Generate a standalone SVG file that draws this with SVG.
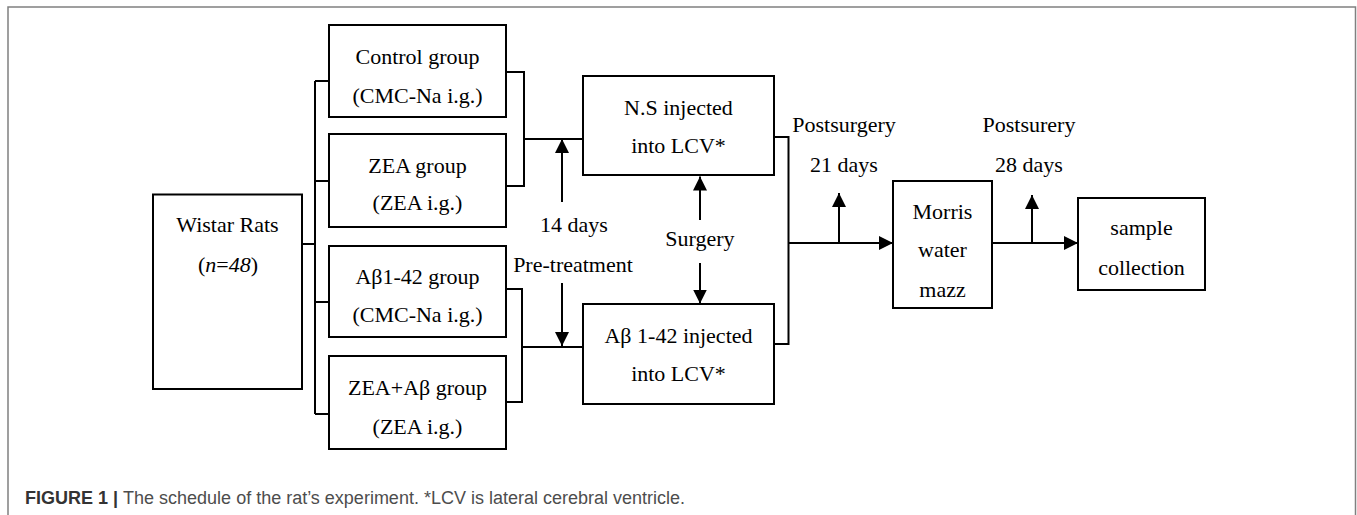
<svg xmlns="http://www.w3.org/2000/svg" width="1357" height="515" viewBox="0 0 1357 515">
<style>
.box{fill:#fff;stroke:#000;stroke-width:2}
.ln{fill:none;stroke:#000;stroke-width:2}
.t{font-family:"Liberation Serif","Times New Roman",serif;font-size:22px;fill:#000;text-anchor:middle}
.cap{font-family:"Liberation Sans",Arial,sans-serif;font-size:18px}
</style>
<defs>
<marker id="ah" markerUnits="userSpaceOnUse" markerWidth="14" markerHeight="14" refX="14" refY="7" orient="auto">
<path d="M0,0 L14,7 L0,14 z" fill="#000"/>
</marker>
</defs>
<rect width="1357" height="515" fill="#fff"/>
<path d="M8,515 V7 H1355.5 V515" fill="none" stroke="#808080" stroke-width="1.5"/>
<g id="connectors">
<path class="ln" d="M302,244 H315"/>
<path class="ln" d="M315,81 V414"/>
<path class="ln" d="M315,81 H329 M315,181 H329 M315,302 H329 M315,414 H329"/>
<path class="ln" d="M506,72 H524 V186 H506 M524,139 H583"/>
<path class="ln" d="M506,289 H522 V402 H506 M522,347 H583"/>
<path class="ln" d="M562,202 V139" marker-end="url(#ah)"/>
<path class="ln" d="M562,283 V346" marker-end="url(#ah)"/>
<path class="ln" d="M700,220 V176.5" marker-end="url(#ah)"/>
<path class="ln" d="M700,263 V303.5" marker-end="url(#ah)"/>
<path class="ln" d="M774,137 H788.5 V344 H774"/>
<path class="ln" d="M788.5,243 H893" marker-end="url(#ah)"/>
<path class="ln" d="M839,243 V193" marker-end="url(#ah)"/>
<path class="ln" d="M992,243 H1078" marker-end="url(#ah)"/>
<path class="ln" d="M1032,243 V195" marker-end="url(#ah)"/>
</g>
<g id="wistar">
<rect class="box" x="153" y="194.5" width="149" height="194.5"/>
<text class="t" x="227.5" y="232">Wistar Rats</text>
<text class="t" x="228" y="272">(<tspan font-style="italic">n</tspan>=<tspan font-style="italic">48</tspan>)</text>
</g>
<g id="control">
<rect class="box" x="329" y="25" width="177" height="92"/>
<text class="t" x="417.5" y="64">Control group</text>
<text class="t" x="417.5" y="103">(CMC-Na i.g.)</text>
</g>
<g id="zea">
<rect class="box" x="329" y="134" width="177" height="93"/>
<text class="t" x="417.5" y="173">ZEA group</text>
<text class="t" x="417.5" y="210">(ZEA i.g.)</text>
</g>
<g id="abeta">
<rect class="box" x="329" y="246" width="177" height="91"/>
<text class="t" x="417.5" y="284">Aβ1-42 group</text>
<text class="t" x="417.5" y="322">(CMC-Na i.g.)</text>
</g>
<g id="zeaabeta">
<rect class="box" x="329" y="356" width="177" height="93"/>
<text class="t" x="417.5" y="395">ZEA+Aβ group</text>
<text class="t" x="417.5" y="434">(ZEA i.g.)</text>
</g>
<g id="ns">
<rect class="box" x="583" y="76" width="191" height="99"/>
<text class="t" x="678.5" y="115">N.S injected</text>
<text class="t" x="678.5" y="153">into LCV*</text>
</g>
<g id="abinj">
<rect class="box" x="583" y="304" width="191" height="100"/>
<text class="t" x="678.5" y="343">Aβ 1-42 injected</text>
<text class="t" x="678.5" y="381">into LCV*</text>
</g>
<g id="morris">
<rect class="box" x="893" y="181" width="99" height="127"/>
<text class="t" x="942.5" y="219">Morris</text>
<text class="t" x="942.5" y="257">water</text>
<text class="t" x="942.5" y="297">mazz</text>
</g>
<g id="sample">
<rect class="box" x="1078" y="198" width="127" height="92"/>
<text class="t" x="1141.5" y="235">sample</text>
<text class="t" x="1141.5" y="275">collection</text>
</g>
<g id="labels">
<text class="t" x="574" y="232">14 days</text>
<text class="t" x="573" y="272">Pre-treatment</text>
<text class="t" x="700" y="246">Surgery</text>
<text class="t" x="844" y="132">Postsurgery</text>
<text class="t" x="844" y="172">21 days</text>
<text class="t" x="1029" y="132">Postsurery</text>
<text class="t" x="1029" y="172">28 days</text>
</g>
<text class="cap" x="25" y="504"><tspan font-weight="bold" fill="#333">FIGURE 1 | </tspan><tspan fill="#4d4d4d">The schedule of the rat’s experiment. *LCV is lateral cerebral ventricle.</tspan></text>
</svg>
